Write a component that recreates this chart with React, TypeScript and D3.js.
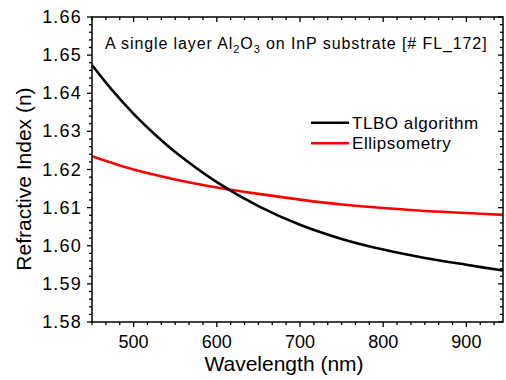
import React, { useEffect, useRef } from "react";
import * as d3 from "d3";

// wavelength (nm) and refractive index
const tlboWave = [450, 475, 500, 525, 550, 600, 650, 700, 750, 800, 850, 900, 944];
const tlboN = [1.6474, 1.6406, 1.6346, 1.6293, 1.6246, 1.6167, 1.6104, 1.6055, 1.6018, 1.599, 1.5968, 1.595, 1.5935];

const ellWave = [450, 500, 550, 600, 650, 700, 750, 800, 850, 900, 944];
const ellN = [1.6235, 1.62, 1.6174, 1.6153, 1.6136, 1.6121, 1.6108, 1.6099, 1.6091, 1.6086, 1.6081];

const xTicks = [500, 600, 700, 800, 900];
const yTicks = [1.58, 1.59, 1.6, 1.61, 1.62, 1.63, 1.64, 1.65, 1.66];
const seriesNames = ["TLBO algorithm", "Ellipsometry"];
const seriesColors = ["#000000", "#ff0000"];

export default function App() {
  const ref = useRef<SVGSVGElement>(null);

  useEffect(() => {
    const width = 506,
      height = 380,
      margin = { top: 17, right: 3, bottom: 58, left: 92 };
    const font = "Arial, 'Liberation Sans', sans-serif";

    const svg = d3.select(ref.current);
    svg.selectAll("*").remove();

    svg.append("rect").attr("width", width).attr("height", height).attr("fill", "#fff");

    const x = d3
      .scaleLinear()
      .domain([450, 944])
      .range([margin.left, width - margin.right]);
    const y = d3
      .scaleLinear()
      .domain([1.58, 1.66])
      .range([height - margin.bottom, margin.top]);

    const x0 = margin.left,
      x1 = width - margin.right,
      y0 = height - margin.bottom,
      y1 = margin.top;

    // minor ticks: 6 intervals per 100 nm on x, 5 per 0.01 on y
    const xMinor = d3.range(0, 30).map((i) => 450 + (i * 100) / 6).filter((v) => v <= 944.5);
    const yMinor = d3.range(0, 41).map((i) => 1.58 + i * 0.002);

    const ticks = svg.append("g").attr("stroke", "#000").attr("stroke-width", 1.3);
    xMinor.forEach((v) => {
      const major = xTicks.some((t) => Math.abs(t - v) < 0.01);
      const len = major ? 5 : 3;
      ticks.append("line").attr("x1", x(v)).attr("x2", x(v)).attr("y1", y0).attr("y2", y0 + len);
      ticks.append("line").attr("x1", x(v)).attr("x2", x(v)).attr("y1", y1).attr("y2", y1 + len);
    });
    yMinor.forEach((v) => {
      const major = yTicks.some((t) => Math.abs(t - v) < 1e-6);
      const len = major ? 5 : 3;
      ticks.append("line").attr("x1", x0).attr("x2", x0 - len).attr("y1", y(v)).attr("y2", y(v));
      ticks.append("line").attr("x1", x1).attr("x2", x1 - len).attr("y1", y(v)).attr("y2", y(v));
    });

    // curves
    const line = d3
      .line<[number, number]>()
      .x((d) => x(d[0]))
      .y((d) => y(d[1]))
      .curve(d3.curveCatmullRom.alpha(0.5));

    const plot = svg.append("g");
    plot
      .append("path")
      .attr("d", line(ellWave.map((w, i) => [w, ellN[i]]))!)
      .attr("fill", "none")
      .attr("stroke", seriesColors[1])
      .attr("stroke-width", 2.6);
    plot
      .append("path")
      .attr("d", line(tlboWave.map((w, i) => [w, tlboN[i]]))!)
      .attr("fill", "none")
      .attr("stroke", seriesColors[0])
      .attr("stroke-width", 2.6);

    // frame
    svg
      .append("rect")
      .attr("x", x0)
      .attr("y", y1)
      .attr("width", x1 - x0)
      .attr("height", y0 - y1)
      .attr("fill", "none")
      .attr("stroke", "#000")
      .attr("stroke-width", 1.5);

    // tick labels
    svg
      .append("g")
      .selectAll("text")
      .data(xTicks)
      .enter()
      .append("text")
      .attr("x", (d) => x(d))
      .attr("y", y0 + 26)
      .attr("text-anchor", "middle")
      .style("font-family", font)
      .style("font-size", "18px")
      .text((d) => d);

    svg
      .append("g")
      .selectAll("text")
      .data(yTicks)
      .enter()
      .append("text")
      .attr("x", x0 - 10)
      .attr("y", (d) => y(d) + 6)
      .attr("text-anchor", "end")
      .style("font-family", font)
      .style("font-size", "18px")
      .style("letter-spacing", "1.2px")
      .text((d) => d3.format(".2f")(d));

    // axis titles
    svg
      .append("text")
      .attr("x", 284)
      .attr("y", 371)
      .attr("text-anchor", "middle")
      .style("font-family", font)
      .style("font-size", "21px")
      .text("Wavelength (nm)");

    svg
      .append("text")
      .attr("transform", "translate(31,179) rotate(-90)")
      .attr("text-anchor", "middle")
      .style("font-family", font)
      .style("font-size", "21px")
      .text("Refractive Index (n)");

    // title with subscripts
    const title = svg
      .append("text")
      .attr("x", 105)
      .attr("y", 49)
      .style("font-family", font)
      .style("font-size", "16px")
      .style("letter-spacing", "0.9px");
    title.append("tspan").text("A single layer Al");
    title.append("tspan").attr("dy", 4).style("font-size", "11px").text("2");
    title.append("tspan").attr("dy", -4).text("O");
    title.append("tspan").attr("dy", 4).style("font-size", "11px").text("3");
    title.append("tspan").attr("dy", -4).text(" on InP substrate [# FL_172]");

    // legend
    const legendY = [122.7, 143.3];
    seriesNames.forEach((name, i) => {
      svg
        .append("line")
        .attr("x1", 311)
        .attr("x2", 349)
        .attr("y1", legendY[i])
        .attr("y2", legendY[i])
        .attr("stroke", seriesColors[i])
        .attr("stroke-width", 2.6);
      svg
        .append("text")
        .attr("x", 352)
        .attr("y", legendY[i] + 6)
        .style("font-family", font)
        .style("font-size", "17px")
        .style("letter-spacing", "0.55px")
        .text(name);
    });
  }, []);

  return (
    <svg
      ref={ref}
      width={506}
      height={380}
      style={{ position: "absolute", left: 0, top: 0 }}
    />
  );
}
